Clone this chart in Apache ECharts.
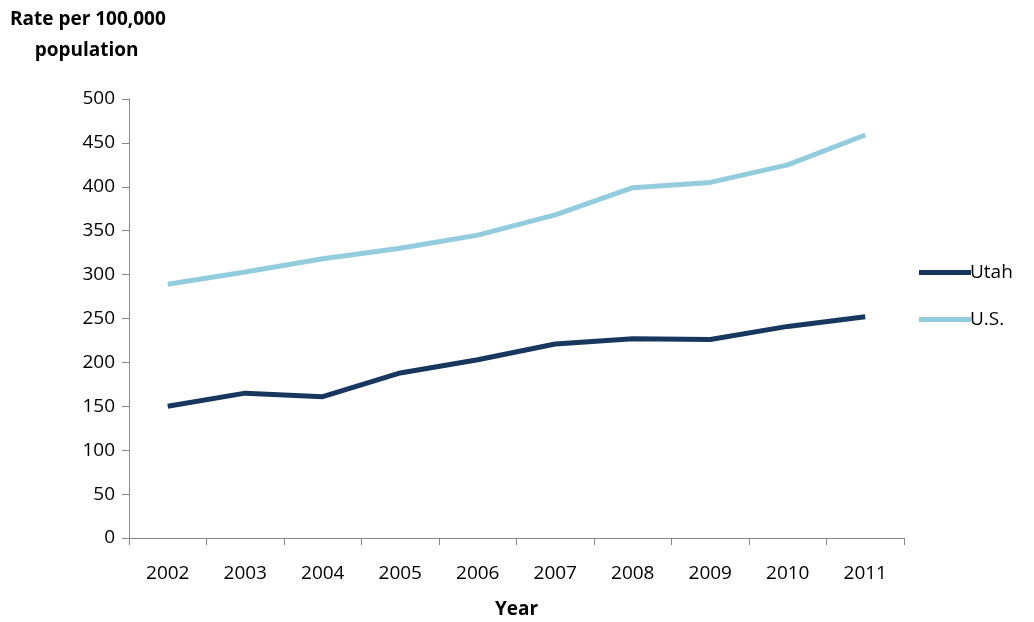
<!DOCTYPE html><html><head><meta charset="utf-8">
<script src="https://cdn.jsdelivr.net/npm/echarts@6/dist/echarts.min.js"></script>
<style>body{margin:0}#c{width:1034px;height:622px}</style></head><body><div id="c"></div><script>
const years=['2002','2003','2004','2005','2006','2007','2008','2009','2010','2011'];
const utah=[150,165,161,188,203,221,227,226,241,252];
const us=[289,303,318,330,345,368,399,405,425,459];
const ff='"Open Sans","Liberation Sans",sans-serif';
const ch=echarts.init(document.getElementById('c'));
ch.setOption({
 animation:false,
 textStyle:{fontFamily:ff},
 grid:{left:129,right:130,top:99,bottom:84,outerBoundsMode:'none'},
 legend:{orient:'vertical',left:914,top:258,itemGap:28,itemWidth:52,itemHeight:5,icon:'rect',
  textStyle:{fontSize:19,color:'#000',fontFamily:ff,padding:[0,0,0,-6]},data:['Utah','U.S.']},
 xAxis:{type:'category',data:years,boundaryGap:true,name:'Year',nameLocation:'middle',nameGap:62,
  nameTextStyle:{fontSize:19,fontWeight:'bold',color:'#000'},
  axisLine:{lineStyle:{color:'#888'}},axisTick:{show:true,length:7,lineStyle:{color:'#888'}},
  axisLabel:{fontSize:19,color:'#000',margin:26}},
 yAxis:{type:'value',min:0,max:500,interval:50,splitLine:{show:false},
  axisLine:{show:true,lineStyle:{color:'#888'}},axisTick:{show:true,length:7,lineStyle:{color:'#888'}},
  axisLabel:{fontSize:19,color:'#000',margin:14}},
 graphic:[{type:'text',left:10,top:4,style:{text:'Rate per 100,000\n     population',font:'bold 19px '+ff,fill:'#000',lineHeight:31}}],
 series:[
  {name:'Utah',type:'line',data:utah,symbol:'none',lineStyle:{width:5,color:'#17375e'},itemStyle:{color:'#17375e'}},
  {name:'U.S.',type:'line',data:us,symbol:'none',lineStyle:{width:5,color:'#93cddd'},itemStyle:{color:'#93cddd'}}
 ]});
</script></body></html>
